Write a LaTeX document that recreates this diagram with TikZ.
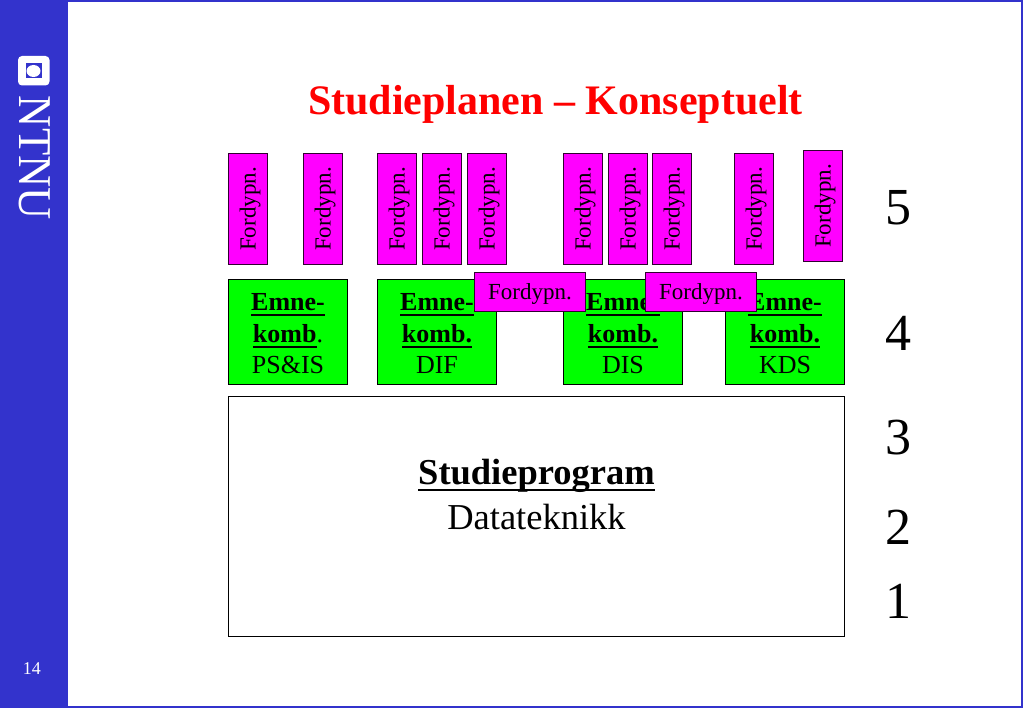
\documentclass[tikz,border=0pt]{standalone}
\usepackage{fontspec}
\setmainfont{Liberation Serif}
\definecolor{ntnublue}{HTML}{3333CC}
\definecolor{boxmag}{HTML}{FF00FF}
\definecolor{boxgreen}{HTML}{00FF00}
\definecolor{boxline}{HTML}{300030}
\newcommand\ulx[1]{\leavevmode\setbox0=\hbox{#1}\dp0=0pt \vtop{\box0\kern.13em\hrule height .075em}}
\tikzset{
  tallbox/.style={draw=boxline,fill=boxmag,line width=1pt,inner sep=0pt,minimum width=39pt,minimum height=111pt},
  tallinner/.style={rotate=90,inner sep=0pt,font=\fontsize{23}{23}\selectfont},
  widebox/.style={draw=boxline,fill=boxmag,line width=1pt,inner sep=0pt,minimum width=111pt,minimum height=39pt,
    text height=19.5pt,text depth=3.5pt,font=\fontsize{23}{23}\selectfont},
  greenbox/.style={draw=black,fill=boxgreen,line width=1pt,inner sep=0pt,minimum width=119.5pt,minimum height=105pt},
  greentext/.style={inner sep=0pt,align=center,font=\fontsize{26}{31.5}\selectfont},
  bigbox/.style={draw=black,fill=white,line width=1pt,inner sep=0pt,minimum width=616pt,minimum height=240pt},
  levelnum/.style={anchor=base,inner sep=0pt,font=\fontsize{52}{52}\selectfont},
}
\begin{document}
\begin{tikzpicture}[x=1pt,y=-1pt]
\useasboundingbox (0,0) rectangle (1023,708);
\fill[white] (0,0) rectangle (1023,708);
\draw[ntnublue,line width=2pt] (0,1) -- (1022,1) -- (1022,707) -- (0,707);
\fill[ntnublue] (0,0) rectangle (68,708);
% logo
\fill[white,rounded corners=4pt] (18,56) rectangle (49.5,85.5);
\fill[ntnublue] (26,63) rectangle (42,78);
\fill[white] (33.5,71) ellipse (7pt and 6pt);
\node[rotate=-90,anchor=center,inner sep=0pt,text=white,xscale=0.95,font=\fontsize{47}{47}\selectfont] (logo) at (34.5,158) {NTNU};
\node[text=white,inner sep=0pt,font=\fontsize{18}{18}\selectfont] (page) at (32,668.5) {14};
% title
\node[anchor=base,inner sep=0pt,text=red,font=\bfseries\fontsize{42}{42}\selectfont] (title) at (555.5,114.5) {Studieplanen – Konseptuelt};
% green
\foreach \nm/\xx/\lab/\sub in {g1/288/\ulx{\textbf{komb}}./PS\&IS,g2/437/\ulx{\textbf{komb.}}/DIF,g3/623/\ulx{\textbf{komb.}}/DIS,g4/785/\ulx{\textbf{komb.}}/KDS}{
  \node[greenbox] (\nm) at (\xx,332) {};
  \node[greentext] (\nm txt) at ([shift={(0,1.8)}]\nm.center) {\ulx{\textbf{Emne-}}\\\lab\\\sub};
}
% tall
\foreach \nm/\xx/\yy in {t1/248/209,t2/323/209,t3/397/209,t4/442/209,t5/487/209,t6/583/209,t7/628/209,t8/672/209,t9/754/209,t10/823/206}{
  \node[tallbox] (\nm) at (\xx,\yy) {};
  \node[tallinner] (\nm txt) at ([shift={(2,0)}]\nm.center) {Fordypn.};
}
% wide
\node[widebox] (w1) at (530,292) {Fordypn.};
\node[widebox] (w2) at (701,292) {Fordypn.};
% big
\node[bigbox] (big) at (536,516.5) {};
\node[anchor=base,inner sep=0pt,font=\fontsize{36.5}{36.5}\selectfont] (bigt) at (536.5,484) {\ulx{\textbf{Studieprogram}}};
\node[anchor=base,inner sep=0pt,font=\fontsize{36.5}{36.5}\selectfont] (bigs) at (536.5,529) {Datateknikk};
% numbers
\node[levelnum] (n5) at (898,225) {5};
\node[levelnum] (n4) at (898,351) {4};
\node[levelnum] (n3) at (898,454.5) {3};
\node[levelnum] (n2) at (898,544) {2};
\node[levelnum] (n1) at (898,618) {1};
\end{tikzpicture}
\end{document}
